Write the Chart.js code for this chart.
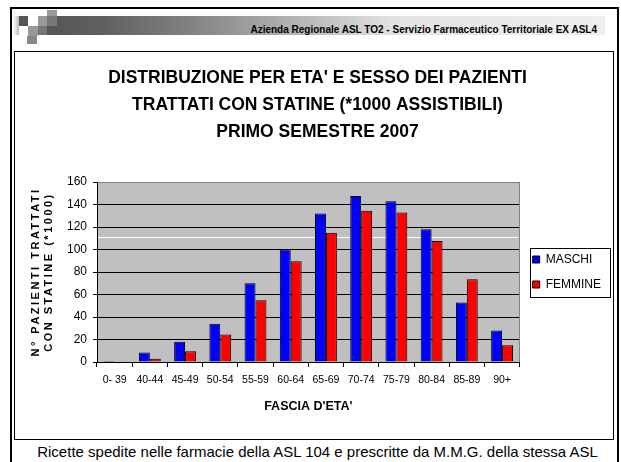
<!DOCTYPE html>
<html><head><meta charset="utf-8">
<script src="https://cdn.jsdelivr.net/npm/chart.js@4/dist/chart.umd.min.js"></script>
<style>
html,body{margin:0;padding:0;background:#fff;}
#slide{position:relative;width:621px;height:462px;overflow:hidden;background:#fff;font-family:"Liberation Sans",Arial,sans-serif;}
.a{position:absolute;}
#c{position:absolute;left:0;top:0;z-index:5;}
</style></head><body>
<div id="slide">
  <div class="a" style="left:13px;top:16px;width:6px;height:19px;background:linear-gradient(to right,#fff,#bbb);"></div>
  <div class="a" style="left:47px;top:16px;width:558px;height:19px;background:linear-gradient(to right,#555 0%,#606060 10%,#808080 25%,#b5b5b5 45%,#e2e2e2 62%,#efefef 100%);"></div>
  <div class="a" style="left:19px;top:16px;width:9px;height:10px;background:#555;"></div>
  <div class="a" style="left:28px;top:26px;width:10px;height:10px;background:#999;"></div>
  <div class="a" style="left:27px;top:36px;width:10px;height:8px;background:#888;"></div>
  <div class="a" style="left:38px;top:16px;width:9px;height:10px;background:#9a9a9a;"></div>
  <div class="a" style="left:38px;top:26px;width:9px;height:9px;background:#777;"></div>
  <div class="a" style="left:47px;top:10px;width:10px;height:6px;background:#999;"></div>
  <div class="a" style="left:47px;top:16px;width:10px;height:10px;background:#777;"></div>
  <div class="a" style="right:24px;top:23px;font-size:10px;font-weight:bold;color:#000;white-space:nowrap;line-height:13px;">Azienda Regionale ASL TO2 - Servizio Farmaceutico Territoriale EX ASL4</div>
  <div class="a" style="left:10px;top:7px;width:609px;height:2px;background:#000;"></div>
  <div class="a" style="left:10px;top:7px;width:2px;height:455px;background:#000;"></div>
  <div class="a" style="left:617px;top:7px;width:2px;height:455px;background:#000;"></div>
  <div class="a" style="left:14px;top:51px;width:600px;height:389px;border:1px solid #000;box-sizing:border-box;"></div>
  <div class="a" style="left:7px;width:621px;top:443px;text-align:center;font-size:15px;line-height:18px;color:#000;white-space:nowrap;">Ricette spedite nelle farmacie della ASL 104 e prescritte da M.M.G. della stessa ASL</div>
  <canvas id="c" width="621" height="462"></canvas>
</div>
<script>
const categories = ['0- 39','40-44','45-49','50-54','55-59','60-64','65-69','70-74','75-79','80-84','85-89','90+'];
const maschi  = [1, 8.5, 18, 34, 70, 100, 132, 147.5, 143, 118, 53, 28];
const femmine = [0, 3, 9.5, 24.5, 55, 89.5, 115, 134.5, 133, 107.5, 73.5, 15];
const seriesNames = ['MASCHI','FEMMINE'];
const yTicks = {min: 0, max: 160, step: 20};
const titleLines = ["DISTRIBUZIONE PER ETA' E SESSO DEI PAZIENTI","TRATTATI CON STATINE (*1000 ASSISTIBILI)","PRIMO SEMESTRE 2007"];
const yTitleLines = ['N° PAZIENTI TRATTATI','CON STATINE (*1000)'];
const xTitle = "FASCIA D'ETA'";
const whiteLineValue = 111.5;

const FAM = '"Liberation Sans", Arial, sans-serif';
Chart.defaults.font.family = FAM;
Chart.defaults.color = '#000';

const decor = {
  id: 'decor',
  beforeDraw(chart) {
    const {ctx, chartArea: a} = chart;
    ctx.save();
    ctx.fillStyle = '#C0C0C0';
    ctx.fillRect(a.left, a.top, a.right - a.left, a.bottom - a.top);
    ctx.restore();
  },
  beforeDatasetsDraw(chart) {
    const {ctx, chartArea: a, scales} = chart;
    const y = Math.round(scales.y.getPixelForValue(whiteLineValue)) + 0.5;
    ctx.save();
    ctx.strokeStyle = '#fff';
    ctx.lineWidth = 1;
    ctx.beginPath(); ctx.moveTo(a.left + 1, y); ctx.lineTo(a.right - 1, y); ctx.stroke();
    ctx.strokeStyle = '#808080';
    ctx.beginPath(); ctx.moveTo(Math.round(a.right) - 0.5, a.top); ctx.lineTo(Math.round(a.right) - 0.5, a.bottom); ctx.stroke();
    ctx.restore();
  },
  afterDraw(chart) {
    const lg = chart.legend;
    if (!lg || !lg.legendHitBoxes || !lg.legendHitBoxes.length) return;
    const hb = lg.legendHitBoxes;
    const first = hb[0], last = hb[hb.length - 1];
    const l = Math.round(first.left - 3) + 0.5;
    const r = Math.round(lg.left + lg.width) - 0.5;
    const t = Math.round(first.top - 6) + 0.5;
    const b = Math.round(last.top + last.height + 6) + 0.5;
    const ctx = chart.ctx;
    ctx.save();
    ctx.strokeStyle = '#000'; ctx.lineWidth = 1;
    ctx.strokeRect(l, t, r - l, b - t);
    ctx.restore();
  }
};

new Chart(document.getElementById('c'), {
  type: 'bar',
  data: {
    labels: categories,
    datasets: [
      {label: seriesNames[0], data: maschi, backgroundColor: '#0000FF', borderColor: '#000', borderWidth: 1},
      {label: seriesNames[1], data: femmine, backgroundColor: '#FF0000', borderColor: '#000', borderWidth: 1}
    ]
  },
  options: {
    responsive: false,
    animation: false,
    devicePixelRatio: 1,
    categoryPercentage: 0.62,
    barPercentage: 1.0,
    layout: {padding: {top: 54, left: 24, right: 10, bottom: 48}},
    plugins: {
      tooltip: {enabled: false},
      title: {
        display: true, text: titleLines, color: '#000',
        font: {size: 17.5, weight: 'bold', lineHeight: 27 / 17.5},
        padding: {top: 10.5, bottom: 36.5}
      },
      legend: {
        position: 'right', fullSize: false,
        labels: {boxWidth: 7, boxHeight: 7, padding: 13, color: '#000', font: {size: 12}}
      }
    },
    scales: {
      x: {
        grid: {display: true, drawOnChartArea: false, drawTicks: true, tickLength: 5, color: '#000', offset: true},
        border: {display: true, color: '#000', width: 1},
        ticks: {color: '#000', font: {size: 10.5}, padding: 7, maxRotation: 0, autoSkip: false},
        title: {display: true, text: xTitle, color: '#000', font: {size: 12.5, weight: 'bold'}, padding: {top: 0, bottom: 0}},
        afterFit(s) { s.height = 52; }
      },
      y: {
        min: yTicks.min, max: yTicks.max,
        ticks: {stepSize: yTicks.step, color: '#000', font: {size: 12}, padding: 6},
        grid: {
          color: (c) => (c.tick && c.tick.value === yTicks.max) ? '#808080' : '#000',
          tickColor: '#000', tickLength: 4, drawTicks: true
        },
        border: {display: true, color: '#000', width: 1},
        title: {display: true, text: yTitleLines, color: '#000', font: {size: 11, weight: 'bold', lineHeight: 13.5 / 11}, padding: {top: 5, bottom: 0}},
        afterFit(s) {
          s.width = 73;
          if (!s._lsPatched) {
            const orig = s.drawTitle;
            s.drawTitle = function () {
              const ctx = this.ctx;
              ctx.save();
              try { ctx.letterSpacing = '2.5px'; } catch (e) {}
              orig.apply(this, arguments);
              ctx.restore();
            };
            s._lsPatched = true;
          }
        }
      }
    }
  },
  plugins: [decor]
});
</script>
</body></html>
